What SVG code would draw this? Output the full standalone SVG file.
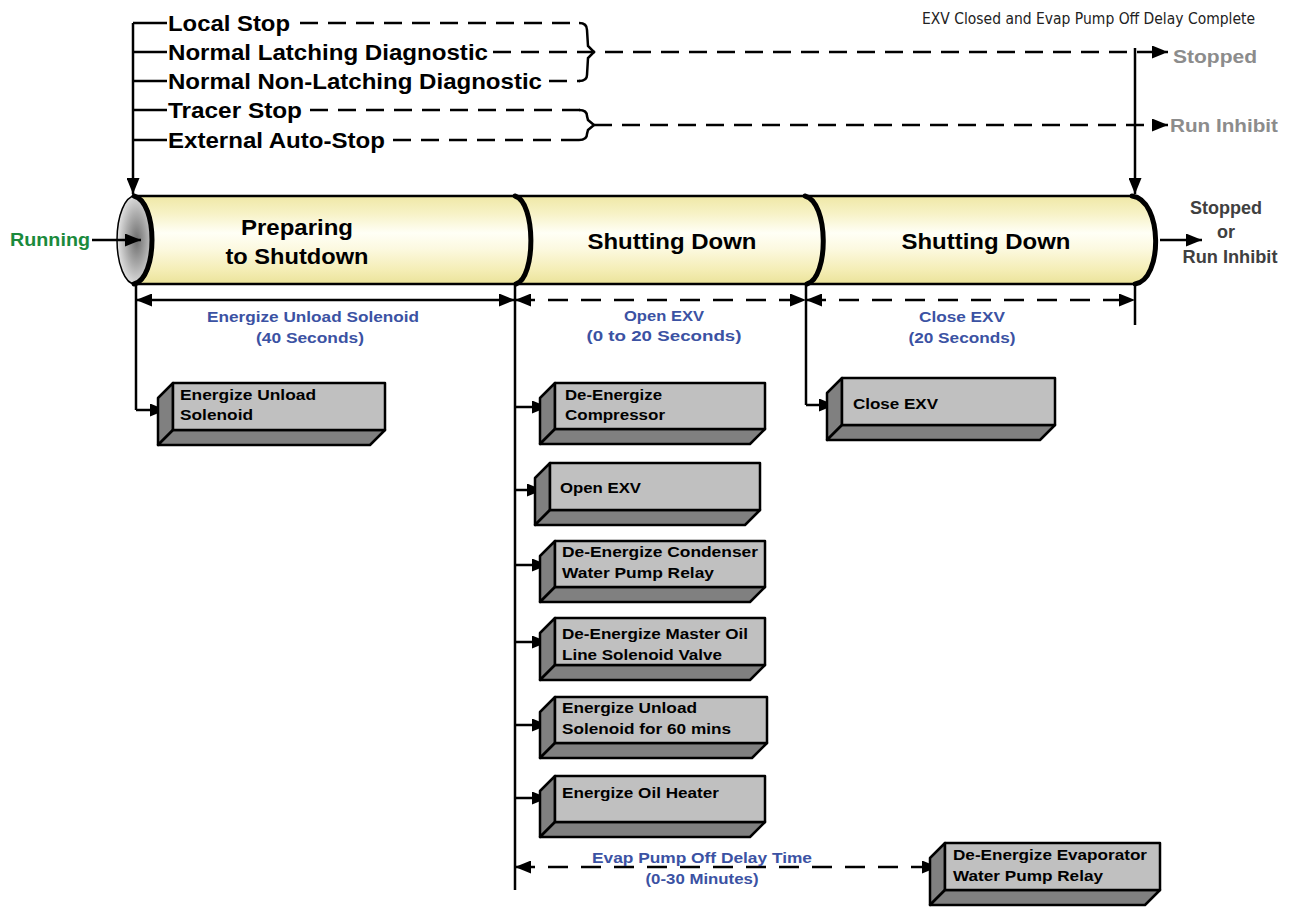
<svg xmlns="http://www.w3.org/2000/svg" width="1291" height="907" viewBox="0 0 1291 907">
<style>
.ln{stroke:#000;stroke-width:2.5;fill:none}
.dash{stroke:#000;stroke-width:2.5;fill:none;stroke-dasharray:18 10}
.dash2{stroke:#000;stroke-width:2.5;fill:none;stroke-dasharray:20 13}
.arc{stroke:#000;stroke-width:5;fill:none;stroke-linecap:round}
.lbl{font-family:"Liberation Sans",Arial,sans-serif;font-weight:bold;font-size:22px;fill:#000}
.gry{font-family:"Liberation Sans",Arial,sans-serif;font-weight:bold;font-size:19px;fill:#8c8c8c}
.cyl{font-family:"Liberation Sans",Arial,sans-serif;font-weight:bold;font-size:22px;fill:#000;text-anchor:middle}
.dim{font-family:"Liberation Sans",Arial,sans-serif;font-weight:bold;font-size:15.5px;fill:#3b52a3;text-anchor:middle}
.bx{font-family:"Liberation Sans",Arial,sans-serif;font-weight:bold;font-size:15.5px;fill:#000}
.front{fill:#c0c0c0;stroke:#000;stroke-width:2.5;stroke-linejoin:round}
.side{fill:#808080;stroke:#000;stroke-width:2.5;stroke-linejoin:round}
</style>
<defs>
<marker id="ah" markerUnits="userSpaceOnUse" markerWidth="17" markerHeight="13" refX="16" refY="6.5" orient="auto-start-reverse">
<path d="M0,0 L16,6.5 L0,13 z" fill="#000"/>
</marker>
<linearGradient id="body" x1="0" y1="0" x2="0" y2="1">
<stop offset="0" stop-color="#efe8a6"/>
<stop offset="0.2" stop-color="#f7f2c6"/>
<stop offset="0.42" stop-color="#fffff6"/>
<stop offset="0.6" stop-color="#fcf9e0"/>
<stop offset="0.85" stop-color="#f4edb4"/>
<stop offset="1" stop-color="#ebe39a"/>
</linearGradient>
<radialGradient id="endcap" cx="0.55" cy="0.5" r="0.6">
<stop offset="0" stop-color="#6e6e6e"/>
<stop offset="0.5" stop-color="#adadad"/>
<stop offset="1" stop-color="#f0f0f0"/>
</radialGradient>
</defs>

<g id="cylinder">
<path d="M134,196 L1132,196 C1163,200 1163,280 1135,284 L134,284 Z" fill="url(#body)"/>
<line x1="134" y1="196" x2="1132" y2="196" class="ln"/>
<line x1="134" y1="284" x2="1135" y2="284" class="ln"/>
<ellipse cx="135" cy="240" rx="18" ry="44" fill="url(#endcap)" stroke="#000" stroke-width="1.5"/>
<path d="M134,196 C158,202 158,278 134,284" class="arc"/>
<path d="M515,196 C536,202 536,278 516,284" class="arc"/>
<path d="M805,196 C829,202 829,278 807,284" class="arc"/>
<path d="M1132,196 C1163,200 1163,280 1135,284" class="arc"/>
<text x="297" y="235" class="cyl" textLength="112" lengthAdjust="spacingAndGlyphs">Preparing</text>
<text x="297" y="264" class="cyl" textLength="143" lengthAdjust="spacingAndGlyphs">to Shutdown</text>
<text x="672" y="249" class="cyl" textLength="169" lengthAdjust="spacingAndGlyphs">Shutting Down</text>
<text x="986" y="249" class="cyl" textLength="169" lengthAdjust="spacingAndGlyphs">Shutting Down</text>
</g>

<g id="connectors">
<line x1="133" y1="23" x2="133" y2="194" class="ln" marker-end="url(#ah)"/>
<line x1="133" y1="23" x2="167" y2="23" class="ln"/>
<line x1="133" y1="52" x2="167" y2="52" class="ln"/>
<line x1="133" y1="81" x2="167" y2="81" class="ln"/>
<line x1="133" y1="110" x2="167" y2="110" class="ln"/>
<line x1="133" y1="140" x2="167" y2="140" class="ln"/>
<line x1="300" y1="23" x2="580" y2="23" class="dash"/>
<line x1="549" y1="81" x2="580" y2="81" class="dash" stroke-dasharray="12 8"/>
<line x1="310" y1="110" x2="580" y2="110" class="dash"/>
<line x1="393" y1="140" x2="580" y2="140" class="dash"/>
<line x1="493" y1="52" x2="1168" y2="52" class="dash" marker-end="url(#ah)"/>
<line x1="594" y1="125" x2="1168" y2="125" class="dash" marker-end="url(#ah)"/>
<path d="M579,23 Q587,23 587,30 L588,46 L594,52 L588,58 L587,75 Q587,81 579,81" class="ln"/>
<path d="M579,110 Q587,110 587,116 L588,120 L594,125 L588,130 L587,134 Q587,140 579,140" class="ln"/>
<line x1="1135" y1="48" x2="1135" y2="194" class="ln" marker-end="url(#ah)"/>
<line x1="92" y1="240" x2="141" y2="240" class="ln" marker-end="url(#ah)"/>
<line x1="1160" y1="240" x2="1202" y2="240" class="ln" marker-end="url(#ah)"/>
<line x1="136" y1="284" x2="136" y2="410" class="ln"/>
<line x1="136" y1="410" x2="166" y2="410" class="ln" marker-end="url(#ah)"/>
<line x1="515" y1="284" x2="515" y2="890" class="ln"/>
<line x1="806" y1="284" x2="806" y2="405" class="ln"/>
<line x1="806" y1="405" x2="835" y2="405" class="ln" marker-end="url(#ah)"/>
<line x1="1135" y1="284" x2="1135" y2="325" class="ln"/>
<line x1="136" y1="300" x2="515" y2="300" class="ln" marker-start="url(#ah)" marker-end="url(#ah)"/>
<line x1="515" y1="300" x2="806" y2="300" class="dash2" marker-start="url(#ah)" marker-end="url(#ah)"/>
<line x1="806" y1="300" x2="1135" y2="300" class="dash2" marker-start="url(#ah)" marker-end="url(#ah)"/>
<line x1="515" y1="867" x2="938" y2="867" class="dash2" marker-start="url(#ah)" marker-end="url(#ah)"/>
<line x1="515" y1="407" x2="548" y2="407" class="ln" marker-end="url(#ah)"/>
<line x1="515" y1="490" x2="543" y2="490" class="ln" marker-end="url(#ah)"/>
<line x1="515" y1="565" x2="548" y2="565" class="ln" marker-end="url(#ah)"/>
<line x1="515" y1="642" x2="548" y2="642" class="ln" marker-end="url(#ah)"/>
<line x1="515" y1="725" x2="548" y2="725" class="ln" marker-end="url(#ah)"/>
<line x1="515" y1="798" x2="548" y2="798" class="ln" marker-end="url(#ah)"/>
</g>

<g id="labels">
<text x="922" y="24" font-family="DejaVu Sans, Verdana, sans-serif" font-size="15" fill="#222" textLength="333" lengthAdjust="spacingAndGlyphs">EXV Closed and Evap Pump Off Delay Complete</text>
<text x="168" y="31" class="lbl" textLength="122" lengthAdjust="spacingAndGlyphs">Local Stop</text>
<text x="168" y="60" class="lbl" textLength="320" lengthAdjust="spacingAndGlyphs">Normal Latching Diagnostic</text>
<text x="168" y="89" class="lbl" textLength="374" lengthAdjust="spacingAndGlyphs">Normal Non-Latching Diagnostic</text>
<text x="168" y="118" class="lbl" textLength="134" lengthAdjust="spacingAndGlyphs">Tracer Stop</text>
<text x="168" y="148" class="lbl" textLength="217" lengthAdjust="spacingAndGlyphs">External Auto-Stop</text>
<text x="1173" y="63" class="gry" textLength="84" lengthAdjust="spacingAndGlyphs">Stopped</text>
<text x="1170" y="132" class="gry" textLength="108" lengthAdjust="spacingAndGlyphs">Run Inhibit</text>
<text x="10" y="246" font-family="Liberation Sans, Arial, sans-serif" font-weight="bold" font-size="18" fill="#1a8a3c" textLength="80" lengthAdjust="spacingAndGlyphs">Running</text>
<g font-family="Liberation Sans, Arial, sans-serif" font-weight="bold" font-size="18" fill="#404040" text-anchor="middle">
<text x="1226" y="214">Stopped</text>
<text x="1226" y="238">or</text>
<text x="1230" y="263" textLength="95" lengthAdjust="spacingAndGlyphs">Run Inhibit</text>
</g>
<text x="313" y="322" class="dim" textLength="212" lengthAdjust="spacingAndGlyphs">Energize Unload Solenoid</text>
<text x="310" y="343" class="dim" textLength="108" lengthAdjust="spacingAndGlyphs">(40 Seconds)</text>
<text x="664" y="321" class="dim" textLength="80" lengthAdjust="spacingAndGlyphs">Open EXV</text>
<text x="664" y="341" class="dim" textLength="155" lengthAdjust="spacingAndGlyphs">(0 to 20 Seconds)</text>
<text x="962" y="322" class="dim" textLength="86" lengthAdjust="spacingAndGlyphs">Close EXV</text>
<text x="962" y="343" class="dim" textLength="107" lengthAdjust="spacingAndGlyphs">(20 Seconds)</text>
<text x="702" y="863" class="dim" textLength="220" lengthAdjust="spacingAndGlyphs">Evap Pump Off Delay Time</text>
<text x="702" y="884" class="dim" textLength="113" lengthAdjust="spacingAndGlyphs">(0-30 Minutes)</text>
</g>

<g id="box-energize-unload">
<polygon points="173,383 158,398 158,445 173,430" class="side"/>
<polygon points="173,430 385,430 370,445 158,445" class="side"/>
<rect x="173" y="383" width="212" height="47" class="front"/>
<text x="180" y="400" class="bx" textLength="136" lengthAdjust="spacingAndGlyphs">Energize Unload</text>
<text x="180" y="420" class="bx" textLength="73" lengthAdjust="spacingAndGlyphs">Solenoid</text>
</g>

<g id="box-compressor">
<polygon points="555,383 540,398 540,444 555,429" class="side"/>
<polygon points="555,429 765,429 750,444 540,444" class="side"/>
<rect x="555" y="383" width="210" height="46" class="front"/>
<text x="565" y="400" class="bx" textLength="97" lengthAdjust="spacingAndGlyphs">De-Energize</text>
<text x="565" y="420" class="bx" textLength="100" lengthAdjust="spacingAndGlyphs">Compressor</text>
</g>

<g id="box-open-exv">
<polygon points="550,463 535,478 535,525 550,510" class="side"/>
<polygon points="550,510 760,510 745,525 535,525" class="side"/>
<rect x="550" y="463" width="210" height="47" class="front"/>
<text x="560" y="493" class="bx" textLength="81" lengthAdjust="spacingAndGlyphs">Open EXV</text>
</g>

<g id="box-condenser">
<polygon points="555,541 540,556 540,602 555,587" class="side"/>
<polygon points="555,587 765,587 750,602 540,602" class="side"/>
<rect x="555" y="541" width="210" height="46" class="front"/>
<text x="562" y="557" class="bx" textLength="196" lengthAdjust="spacingAndGlyphs">De-Energize Condenser</text>
<text x="562" y="578" class="bx" textLength="152" lengthAdjust="spacingAndGlyphs">Water Pump Relay</text>
</g>

<g id="box-master-oil">
<polygon points="555,618 540,633 540,680 555,665" class="side"/>
<polygon points="555,665 765,665 750,680 540,680" class="side"/>
<rect x="555" y="618" width="210" height="47" class="front"/>
<text x="562" y="639" class="bx" textLength="186" lengthAdjust="spacingAndGlyphs">De-Energize Master Oil</text>
<text x="562" y="660" class="bx" textLength="160" lengthAdjust="spacingAndGlyphs">Line Solenoid Valve</text>
</g>

<g id="box-unload-60">
<polygon points="555,697 540,712 540,758 555,743" class="side"/>
<polygon points="555,743 767,743 752,758 540,758" class="side"/>
<rect x="555" y="697" width="212" height="46" class="front"/>
<text x="562" y="713" class="bx" textLength="135" lengthAdjust="spacingAndGlyphs">Energize Unload</text>
<text x="562" y="734" class="bx" textLength="169" lengthAdjust="spacingAndGlyphs">Solenoid for 60 mins</text>
</g>

<g id="box-oil-heater">
<polygon points="555,776 540,791 540,837 555,822" class="side"/>
<polygon points="555,822 765,822 750,837 540,837" class="side"/>
<rect x="555" y="776" width="210" height="46" class="front"/>
<text x="562" y="798" class="bx" textLength="157" lengthAdjust="spacingAndGlyphs">Energize Oil Heater</text>
</g>

<g id="box-close-exv">
<polygon points="842,378 827,393 827,440 842,425" class="side"/>
<polygon points="842,425 1055,425 1040,440 827,440" class="side"/>
<rect x="842" y="378" width="213" height="47" class="front"/>
<text x="853" y="409" class="bx" textLength="85" lengthAdjust="spacingAndGlyphs">Close EXV</text>
</g>

<g id="box-evap-relay">
<polygon points="945,843 930,858 930,905 945,890" class="side"/>
<polygon points="945,890 1160,890 1145,905 930,905" class="side"/>
<rect x="945" y="843" width="215" height="47" class="front"/>
<text x="953" y="860" class="bx" textLength="194" lengthAdjust="spacingAndGlyphs">De-Energize Evaporator</text>
<text x="953" y="881" class="bx" textLength="150" lengthAdjust="spacingAndGlyphs">Water Pump Relay</text>
</g>
</svg>
